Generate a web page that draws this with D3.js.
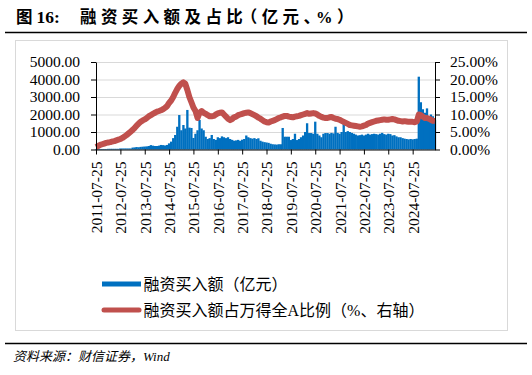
<!DOCTYPE html>
<html>
<head>
<meta charset="utf-8">
<script src="https://cdn.jsdelivr.net/npm/d3@7"></script>
<style>
  body { margin: 0; background: #fff; }
  svg { display: block; }
</style>
</head>
<body>
<svg id="chart"></svg>
<script>
// monthly data, first point 2011-07-25
const startDate = new Date(2011, 6, 25);
const endDate = new Date(2025, 5, 25);

// 融资买入额 (亿元)
const buyAmount = [
  30, 30, 30, 30, 30, 30,
  40, 40, 40, 40, 40, 40,
  60, 60, 60, 60, 60, 60,
  110, 120, 140, 130, 150, 160,
  170, 180, 200, 250, 220, 200,
  200, 220, 260, 250, 230, 260,
  350, 450, 650, 830, 1300, 1970,
  1100, 1400, 1200, 2260, 1250, 1230,
  660, 900, 1100, 1690, 1200, 1100,
  730, 600, 650, 830, 600, 550,
  700, 650, 750, 700, 650, 700,
  600, 550, 500, 520, 550, 500,
  560, 600, 800, 700, 650, 620,
  650, 600, 640, 500, 450, 420,
  400, 380, 330, 300, 290, 280,
  300, 300, 1230, 730, 730, 730,
  540, 600, 900, 540, 600, 700,
  800, 1000, 1500, 940, 940, 900,
  1590, 900, 800, 700, 900, 940,
  940, 900, 950, 920, 1300, 950,
  900, 1000, 1500, 1000, 1050, 1000,
  950, 900, 850, 800, 820, 850,
  800, 850, 900, 850, 880, 900,
  880, 850, 900, 950, 880, 850,
  900, 880, 800, 820, 750, 700,
  700, 650, 620, 600, 580, 600,
  580, 600, 620, 4160, 2700, 2300,
  2100, 2350, 1700, 2000, 1900, 1700
];

// 融资买入额占万得全A比例 (%)
const buyRatio = [
  0.7, 1.0, 1.3, 1.5, 1.7, 1.9,
  2.0, 2.1, 2.3, 2.4, 2.6, 2.8,
  3.0, 3.3, 3.7, 4.1, 4.6, 5.1,
  5.6, 6.2, 6.8, 7.4, 7.9, 8.3,
  8.6, 9.0, 9.5, 9.8, 10.2, 10.5,
  10.8, 11.0, 11.2, 11.5, 11.9, 12.4,
  13.3, 14.0, 15.0, 16.2, 17.3, 18.2,
  18.8, 19.2, 18.8, 17.0, 15.0, 13.5,
  12.0, 11.0, 9.0, 10.5, 11.0, 10.5,
  10.2, 9.8, 9.5, 9.5, 9.6, 10.0,
  10.3, 10.5, 10.6, 10.0, 9.4, 8.8,
  8.4, 8.7, 9.2, 9.4, 9.8, 10.0,
  10.2, 10.4, 10.5, 10.6, 10.4, 10.1,
  9.8, 9.5, 9.1, 8.8, 8.4, 8.0,
  7.8, 7.7, 8.0, 8.2, 8.4, 8.7,
  9.0, 9.2, 9.4, 9.6, 9.6, 9.4,
  9.3, 9.2, 9.4, 9.5, 9.6, 9.8,
  10.0, 10.2, 10.4, 10.2, 10.3, 10.4,
  10.3, 10.0, 9.6, 9.3, 9.1, 9.0,
  9.0, 9.2, 9.3, 9.0, 8.8, 8.7,
  8.5, 8.2, 7.9, 7.6, 7.3, 7.0,
  6.9, 6.8, 6.7, 6.6, 6.5, 6.6,
  6.8, 7.0, 7.4, 7.6, 7.8, 8.0,
  8.2, 8.3, 8.4, 8.5, 8.6, 8.5,
  8.5, 8.6, 8.7, 8.6, 8.4, 8.2,
  8.1, 8.0, 8.1, 8.0, 7.9, 7.9,
  7.9, 7.8, 8.0, 10.0, 9.8, 9.4,
  9.0, 9.0, 8.8, 8.5, 8.2, 8.1
];

const xTickLabels = ["2011-07-25", "2012-07-25", "2013-07-25", "2014-07-25", "2015-07-25",
  "2016-07-25", "2017-07-25", "2018-07-25", "2019-07-25", "2020-07-25", "2021-07-25",
  "2022-07-25", "2023-07-25", "2024-07-25"];
const leftTicks = [0, 1000, 2000, 3000, 4000, 5000];
const rightTicks = [0, 5, 10, 15, 20, 25];

const seriesNames = ["融资买入额（亿元）", "融资买入额占万得全A比例（%、右轴）"];

const BLUE = "#0070c0";
const RED = "#c0504d";
const SERIF = "'Liberation Serif', 'Noto Sans CJK SC', serif";
const CJK = "'Liberation Serif', 'Noto Sans CJK SC', sans-serif";

const svg = d3.select("#chart").attr("width", 532).attr("height", 375);

// title + rules
svg.append("text")
    .attr("y", 23)
    .style("font-family", CJK)
    .style("font-weight", "bold")
    .style("font-size", "16.5px")
    .call(t => {
      t.append("tspan").attr("x", 16).text("图");
      t.append("tspan").attr("x", 36.5).style("font-size", "17.5px").text("16:");
      t.append("tspan").attr("x", 80).style("letter-spacing", "4.4px").text("融资买入额及占比");
      t.append("tspan").attr("x", 249).style("letter-spacing", "4.4px")
        .style("font-feature-settings", "'halt' 1").text("（亿元、%）");
    });

svg.append("line")
    .attr("x1", 5).attr("x2", 527).attr("y1", 32.5).attr("y2", 32.5)
    .attr("stroke", "#000").attr("stroke-width", 1.6);

svg.append("rect")
    .attr("x", 15.5).attr("y", 40.5).attr("width", 492).attr("height", 290)
    .attr("fill", "none").attr("stroke", "#d9d9d9");

svg.append("line")
    .attr("x1", 5).attr("x2", 527).attr("y1", 343.5).attr("y2", 343.5)
    .attr("stroke", "#000").attr("stroke-width", 1.4);

svg.append("text")
    .attr("x", 13).attr("y", 361)
    .style("font-family", CJK)
    .style("font-style", "italic")
    .style("font-size", "13px")
    .text("资料来源：财信证券，Wind");

// scales
const plotL = 96, plotR = 435, plotT = 62, plotB = 149.5;
const x = d3.scaleTime().domain([startDate, endDate]).range([plotL, plotR]);
const yL = d3.scaleLinear().domain([0, 5000]).range([plotB, plotT]);
const yR = d3.scaleLinear().domain([0, 25]).range([plotB, plotT]);

const data = buyAmount.map((v, i) => ({
  date: d3.timeMonth.offset(startDate, i),
  amount: v,
  ratio: buyRatio[i]
}));

// gridlines
svg.append("g")
    .attr("transform", `translate(${plotL},0)`)
    .call(d3.axisLeft(yL).tickValues(leftTicks.slice(1)).tickSize(-(plotR - plotL)).tickFormat(""))
    .call(g => g.select(".domain").remove())
    .call(g => g.selectAll("line").attr("stroke", "#d9d9d9"));

// bars
const barW = (plotR - plotL) / buyAmount.length + 0.3;
svg.append("g")
    .selectAll("rect")
    .data(data)
    .join("rect")
    .attr("x", d => x(d.date) - barW / 2)
    .attr("y", d => yL(d.amount))
    .attr("width", barW)
    .attr("height", d => plotB - yL(d.amount))
    .attr("fill", BLUE);

// ratio line
svg.append("path")
    .datum(data)
    .attr("fill", "none")
    .attr("stroke", RED)
    .attr("stroke-width", 6)
    .attr("stroke-linejoin", "round")
    .attr("d", d3.line().x(d => x(d.date)).y(d => yR(d.ratio)));

// axes
const styleAxis = g => {
  g.selectAll("text")
    .style("font-family", SERIF)
    .style("font-size", "15.5px")
    .attr("fill", "#000");
  g.selectAll("line, path").attr("stroke", "#000");
};

svg.append("g")
    .attr("transform", `translate(${plotL},0)`)
    .call(d3.axisLeft(yL).tickValues(leftTicks).tickFormat(d => d.toFixed(2))
      .tickSize(5).tickSizeOuter(0).tickPadding(11))
    .call(styleAxis);

svg.append("g")
    .attr("transform", `translate(${plotR},0)`)
    .call(d3.axisRight(yR).tickValues(rightTicks).tickFormat(d => d.toFixed(2) + "%")
      .tickSize(5).tickSizeOuter(0).tickPadding(10))
    .call(styleAxis);

const parse = d3.timeParse("%Y-%m-%d");
svg.append("g")
    .attr("transform", `translate(0,${plotB})`)
    .call(d3.axisBottom(x).tickValues(xTickLabels.map(parse))
      .tickFormat(d3.timeFormat("%Y-%m-%d")).tickSize(5).tickSizeOuter(0))
    .call(styleAxis)
    .call(g => g.selectAll("text")
      .attr("transform", "rotate(-90)")
      .attr("text-anchor", "end")
      .attr("x", -12)
      .attr("y", 0)
      .attr("dy", "0.35em"));

// legend
const legend = svg.append("g");
legend.append("rect")
    .attr("x", 102).attr("y", 281.5).attr("width", 39).attr("height", 5)
    .attr("fill", BLUE);
legend.append("line")
    .attr("x1", 104).attr("x2", 139).attr("y1", 310).attr("y2", 310)
    .attr("stroke", RED).attr("stroke-width", 5).attr("stroke-linecap", "round");
legend.selectAll("text.lbl")
    .data(seriesNames)
    .join("text")
    .attr("class", "lbl")
    .attr("x", 143.5)
    .attr("y", (d, i) => 284 + i * 26)
    .attr("dy", "0.36em")
    .style("font-family", CJK)
    .style("font-size", "16px")
    .text(d => d);
</script>
</body>
</html>
